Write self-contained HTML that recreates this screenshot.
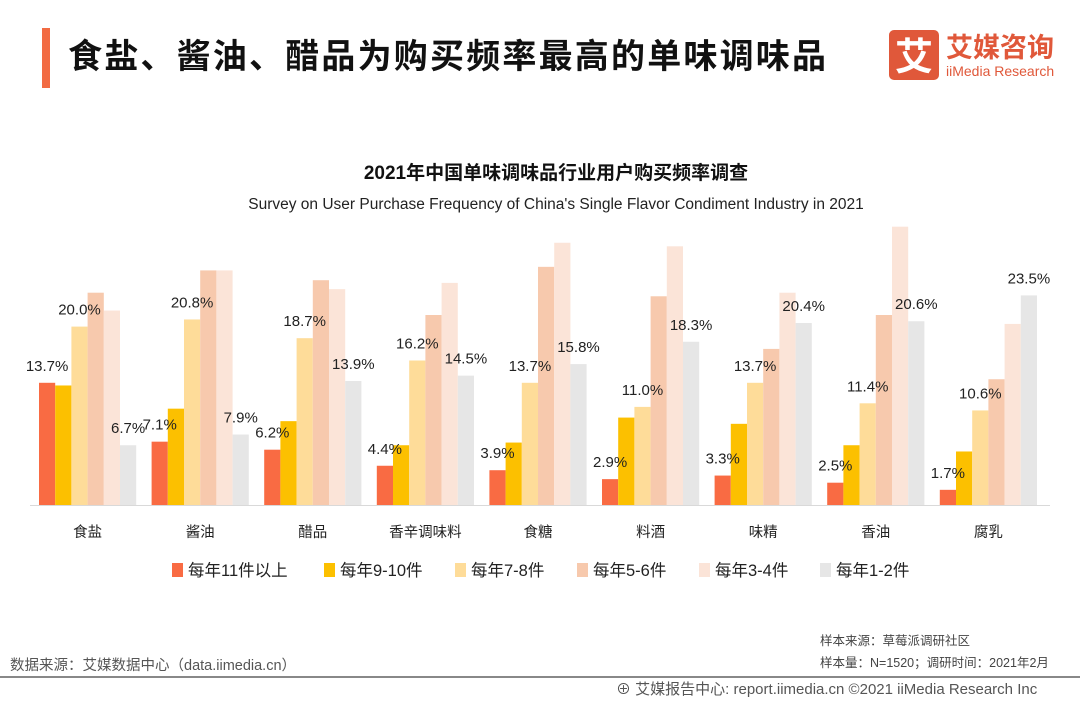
<!DOCTYPE html>
<html><head><meta charset="utf-8"><style>
body{margin:0;width:1080px;height:702px;background:#fff;overflow:hidden;font-family:"Liberation Sans","Noto Sans CJK SC",sans-serif;}
svg{display:block}
text{font-family:"Liberation Sans","Noto Sans CJK SC",sans-serif;}
</style></head><body>
<svg id="chart" width="1080" height="702">
<rect x="42" y="28" width="8" height="60" fill="#f26b43"/>
<text x="68" y="68" font-size="34" font-weight="bold" fill="#111" letter-spacing="2.2">食盐、酱油、醋品为购买频率最高的单味调味品</text>
<rect x="889" y="30" width="50" height="50" rx="5" fill="#e0583a"/>
<text x="914" y="70" font-size="38" font-weight="bold" fill="#fff" text-anchor="middle">艾</text>
<text x="946" y="57" font-size="27" font-weight="bold" fill="#e0583a">艾媒咨询</text>
<text x="946" y="76" font-size="14" fill="#e0583a">iiMedia Research</text>
<text x="556" y="179" font-size="19" font-weight="bold" fill="#111" text-anchor="middle">2021年中国单味调味品行业用户购买频率调查</text>
<text x="556" y="209" font-size="15.5" fill="#222" text-anchor="middle">Survey on User Purchase Frequency of China's Single Flavor Condiment Industry in 2021</text>
<line x1="30" y1="505.5" x2="1050" y2="505.5" stroke="#d9d9d9" stroke-width="1"/>
<g id="bars"></g>
<g id="legend"></g>
<text x="10" y="670" font-size="14.5" fill="#555">数据来源：艾媒数据中心（data.iimedia.cn）</text>
<text x="820" y="645" font-size="12.5" fill="#444">样本来源：草莓派调研社区</text>
<text x="820" y="667" font-size="12.5" fill="#444">样本量：N=1520；调研时间：2021年2月</text>
<line x1="0" y1="677" x2="1080" y2="677" stroke="#888" stroke-width="2"/>
<text x="616" y="694" font-size="15" fill="#555">⊕ 艾媒报告中心: report.iimedia.cn   ©2021  iiMedia Research  Inc</text>
</svg>
<script>
const categories=["食盐","酱油","醋品","香辛调味料","食糖","料酒","味精","香油","腐乳"];
const seriesNames=["每年11件以上","每年9-10件","每年7-8件","每年5-6件","每年3-4件","每年1-2件"];
const s11plus=[13.7,7.1,6.2,4.4,3.9,2.9,3.3,2.5,1.7];
const s9to10=[13.4,10.8,9.4,6.7,7.0,9.8,9.1,6.7,6.0];
const s7to8=[20.0,20.8,18.7,16.2,13.7,11.0,13.7,11.4,10.6];
const s5to6=[23.8,26.3,25.2,21.3,26.7,23.4,17.5,21.3,14.1];
const s3to4=[21.8,26.3,24.2,24.9,29.4,29.0,23.8,31.2,20.3];
const s1to2=[6.7,7.9,13.9,14.5,15.8,18.3,20.4,20.6,23.5];
const labeledSeries=[0,2,5];
const series=[s11plus,s9to10,s7to8,s5to6,s3to4,s1to2];
const colors=["#f96b43","#fcc000","#fedc99","#f7c9ad","#fbe4d8","#e6e6e6"];
const NS="http://www.w3.org/2000/svg";
const base=505,pxPer=8.92,x0=39,groupStep=112.6,barW=16.2;
const y=v=>base-v*pxPer;
const xb=(c,s)=>x0+c*groupStep+s*barW;
const g=document.getElementById('bars');
categories.forEach((cat,c)=>{
  series.forEach((arr,s)=>{
    const r=document.createElementNS(NS,'rect');
    r.setAttribute('x',xb(c,s));r.setAttribute('y',y(arr[c]));
    r.setAttribute('width',barW);r.setAttribute('height',arr[c]*pxPer);
    r.setAttribute('fill',colors[s]);
    
    
    g.appendChild(r);
  });
  labeledSeries.forEach(s=>{
    const t=document.createElementNS(NS,'text');
    t.setAttribute('x',xb(c,s)+barW/2);t.setAttribute('y',y(series[s][c])-12);
    t.setAttribute('font-size','15');t.setAttribute('fill','#222');t.setAttribute('text-anchor','middle');
    t.textContent=series[s][c].toFixed(1)+'%';
    
    
    g.appendChild(t);
  });
  const t=document.createElementNS(NS,'text');
  t.setAttribute('x',xb(c,0)+barW*3);t.setAttribute('y',537);
  t.setAttribute('font-size','14.5');t.setAttribute('fill','#222');t.setAttribute('text-anchor','middle');
  t.textContent=cat;
  
  
  g.appendChild(t);
});
const lg=document.getElementById('legend');
const legX=[172,324,455,577,699,820];
seriesNames.forEach((n,i)=>{
  const r=document.createElementNS(NS,'rect');
  r.setAttribute('x',legX[i]);r.setAttribute('y',563);r.setAttribute('width',11);r.setAttribute('height',14);
  r.setAttribute('fill',colors[i]);
  
  
  lg.appendChild(r);
  const t=document.createElementNS(NS,'text');
  t.setAttribute('x',legX[i]+16);t.setAttribute('y',576);t.setAttribute('font-size','16.5');t.setAttribute('fill','#222');
  t.textContent=n;
  
  
  lg.appendChild(t);
});
</script>
</body></html>
